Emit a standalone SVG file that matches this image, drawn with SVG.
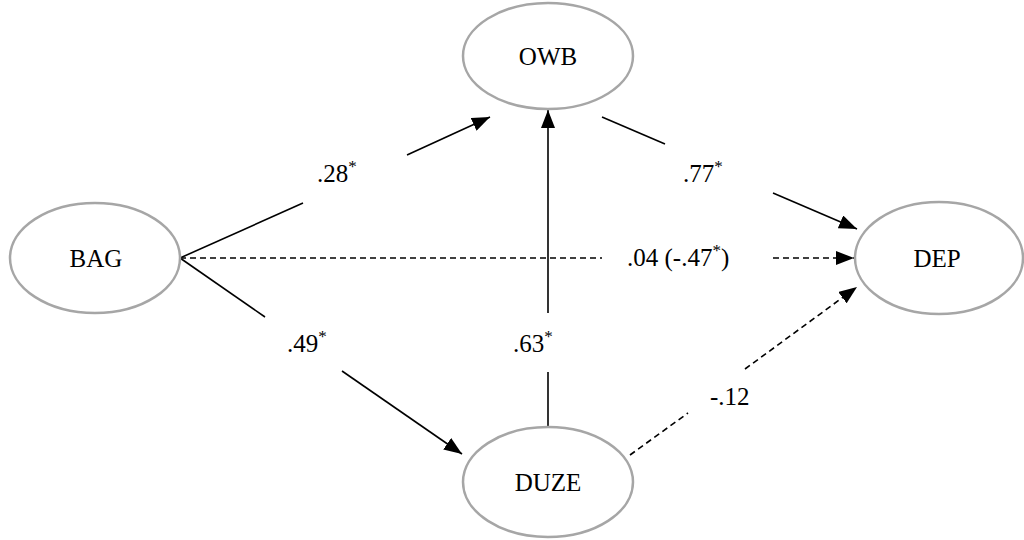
<svg xmlns="http://www.w3.org/2000/svg" width="1024" height="540" viewBox="0 0 1024 540">
<style>
.node{fill:#fff;stroke:#a6a6a6;stroke-width:2.5}
.nl{font-family:"Liberation Serif",serif;font-size:25px;fill:#000;text-anchor:middle}
.el{font-family:"Liberation Serif",serif;font-size:25px;fill:#000}
.sup{font-size:17px}
.ln{stroke:#000;stroke-width:1.6;fill:none}
.ds{stroke:#000;stroke-width:1.6;fill:none;stroke-dasharray:6 4}
</style>
<defs>
<marker id="ah" viewBox="0 0 18 14" refX="18" refY="7" markerWidth="18" markerHeight="14" markerUnits="userSpaceOnUse" orient="auto">
<path d="M0,0 L18,7 L0,14 Z" fill="#000"/>
</marker>
</defs>
<rect width="1024" height="540" fill="#fff"/>
<g id="connectors">
<line class="ln" x1="180" y1="258" x2="303" y2="203"/>
<line class="ln" x1="407" y1="155" x2="490" y2="117" marker-end="url(#ah)"/>
<line class="ln" x1="602" y1="117" x2="665" y2="144"/>
<line class="ln" x1="773" y1="193" x2="857" y2="229" marker-end="url(#ah)"/>
<line class="ds" x1="180" y1="258" x2="602" y2="258"/>
<line class="ds" x1="773" y1="258" x2="854" y2="258" marker-end="url(#ah)"/>
<line class="ln" x1="180" y1="258" x2="265" y2="317"/>
<line class="ln" x1="342" y1="371" x2="462" y2="454" marker-end="url(#ah)"/>
<line class="ln" x1="548" y1="427" x2="548" y2="372"/>
<line class="ln" x1="548" y1="313" x2="548" y2="110" marker-end="url(#ah)"/>
<line class="ds" x1="630" y1="455" x2="688" y2="413"/>
<line class="ds" x1="745" y1="369" x2="857" y2="287" marker-end="url(#ah)"/>
<text class="el" x="317" y="182">.28<tspan class="sup" dy="-10">*</tspan></text>
<text class="el" x="683" y="182">.77<tspan class="sup" dy="-10">*</tspan></text>
<text class="el" x="627" y="266">.04 (-.47<tspan class="sup" dy="-10">*</tspan><tspan dy="10">)</tspan></text>
<text class="el" x="287" y="352">.49<tspan class="sup" dy="-10">*</tspan></text>
<text class="el" x="513" y="352">.63<tspan class="sup" dy="-10">*</tspan></text>
<text class="el" x="710" y="405">-.12</text>
</g>
<g id="BAG"><ellipse class="node" cx="95" cy="258" rx="85" ry="55"/><text class="nl" x="96" y="267">BAG</text></g>
<g id="OWB"><ellipse class="node" cx="548" cy="56" rx="85" ry="53"/><text class="nl" x="548" y="65">OWB</text></g>
<g id="DUZE"><ellipse class="node" cx="548" cy="482" rx="85" ry="55"/><text class="nl" x="548" y="491">DUZE</text></g>
<g id="DEP"><ellipse class="node" cx="939" cy="258" rx="84" ry="56"/><text class="nl" x="937" y="267">DEP</text></g>
</svg>
